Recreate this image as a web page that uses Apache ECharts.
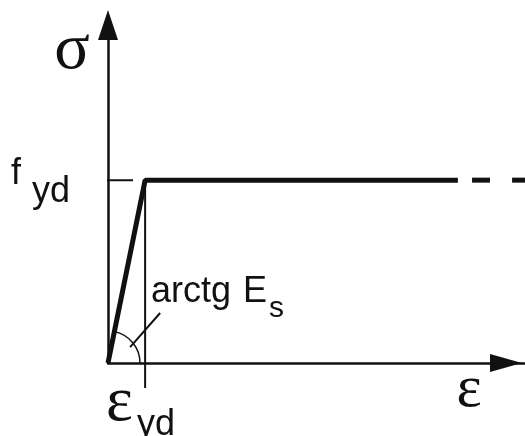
<!DOCTYPE html>
<html>
<head>
<meta charset="utf-8">
<script src="https://cdn.jsdelivr.net/npm/echarts@6/dist/echarts.min.js"></script>
<style>
html,body{margin:0;padding:0;background:#fff}
#chart{width:525px;height:436px}
</style>
</head>
<body>
<div id="chart"></div>
<script>
/*理想弹塑性 σ-ε 曲线数据*/
var curve = [[0, 0], [8.9, 54.1], [83.9, 54.1]];
var dash1 = [[87.3, 54.1], [91.6, 54.1]];
var dash2 = [[96.9, 54.1], [100, 54.1]];
var fydTick = [[-6.0, 54.1], [6.0, 54.1]];
var epsTick = [[8.9, 54.1], [8.9, -7.4]];
var leader = [[5.3, 4.7], [12.5, 14.8]];

var sigmaLabel = 'σ';
var epsLabel = 'ε';
var fLabel = ['f', 'yd'];
var epsYdLabel = ['ε', 'yd'];
var slopeLabel = ['arctg', 'E', 's'];

var ink = '#111';

function lineSeries(data, width) {
    return {
        type: 'line',
        data: data,
        symbol: 'none',
        clip: false,
        silent: true,
        animation: false,
        lineStyle: { color: ink, width: width }
    };
}

var chart = echarts.init(document.getElementById('chart'));
chart.setOption({
    animation: false,
    grid: {
        left: 108,
        right: 0,
        top: 25,
        bottom: 73
    },
    xAxis: {
        type: 'value',
        min: 0,
        max: 100,
        axisLine: {
            show: true,
            symbol: ['none', 'triangle'],
            symbolSize: [18, 32],
            symbolOffset: [0, -19],
            lineStyle: { color: ink, width: 2.5 }
        },
        axisTick: { show: false },
        axisLabel: { show: false },
        splitLine: { show: false }
    },
    yAxis: {
        type: 'value',
        min: 0,
        max: 100,
        axisLine: {
            show: true,
            symbol: ['none', 'triangle'],
            symbolSize: [20, 30],
            lineStyle: { color: ink, width: 2.5 }
        },
        axisTick: { show: false },
        axisLabel: { show: false },
        splitLine: { show: false }
    },
    series: [
        lineSeries(fydTick, 2),
        lineSeries(epsTick, 2),
        lineSeries(leader, 2),
        lineSeries(curve, 5),
        lineSeries(dash1, 5),
        lineSeries(dash2, 5)
    ]
});

/*角度弧线和文字*/
var o = chart.convertToPixel({ gridIndex: 0 }, curve[0]);
var p = chart.convertToPixel({ gridIndex: 0 }, curve[1]);
var ang = Math.atan2(p[1] - o[1], p[0] - o[0]);

function txt(str, x, y, size, family, align) {
    return {
        type: 'text',
        silent: true,
        style: {
            text: str,
            x: x,
            y: y,
            font: size + 'px ' + family,
            fill: ink,
            align: align || 'left',
            textAlign: align || 'left',
            verticalAlign: 'middle',
            textVerticalAlign: 'middle'
        }
    };
}

var sans = '"Liberation Sans", Arial, sans-serif';
var serif = '"Liberation Serif", "Times New Roman", serif';

chart.setOption({
    graphic: [
        {
            type: 'arc',
            silent: true,
            shape: { cx: o[0], cy: o[1], r: 32, startAngle: ang, endAngle: 0, clockwise: true },
            style: { stroke: ink, fill: null, lineWidth: 1.5 }
        },
        txt(sigmaLabel, 72, 51, 66, serif, 'center'),
        txt(epsLabel, 469, 390, 60, serif, 'center'),
        txt(epsYdLabel[0], 119.5, 403, 64, serif, 'center'),
        txt(epsYdLabel[1], 137, 425.5, 36, sans),
        txt(fLabel[0], 11, 174.5, 36, sans),
        txt(fLabel[1], 32, 192.5, 36, sans),
        txt(slopeLabel[0], 151, 292.5, 36, sans),
        txt(slopeLabel[1], 243, 292.5, 36, sans),
        txt(slopeLabel[2], 269, 308.6, 30, sans)
    ]
});
</script>
</body>
</html>
